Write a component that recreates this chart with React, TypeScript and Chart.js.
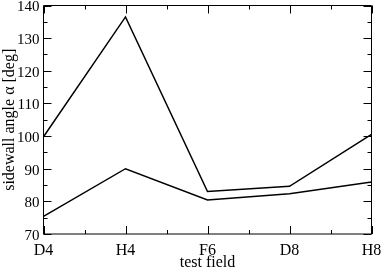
import React, { useEffect, useRef } from "react";
import { Chart, registerables } from "chart.js";

Chart.register(...registerables);

const categories = ["D4", "H4", "F6", "D8", "H8"];
const upperSeries = [99.8, 136.5, 83.0, 84.6, 100.5];
const lowerSeries = [75.4, 90.0, 80.4, 82.3, 85.9];
const yMin = 70;
const yMax = 140;
const yMajorStep = 10;
const yMinorStep = 5;

const FONT = "'Liberation Serif', 'DejaVu Serif', serif";

const framePlugin = {
  id: "frameTicks",
  afterDatasetsDraw(chart: any) {
    const { ctx, chartArea: a, scales } = chart;
    const x = scales.x;
    const y = scales.y;
    ctx.save();
    ctx.strokeStyle = "#000";
    ctx.lineWidth = 1;
    ctx.beginPath();
    ctx.rect(a.left, a.top, a.right - a.left, a.bottom - a.top);
    ctx.stroke();
    const major = 8;
    const minor = 4;
    ctx.beginPath();
    for (let v = yMin; v <= yMax + 1e-9; v += yMinorStep) {
      const py = Math.round(y.getPixelForValue(v)) + 0.5;
      const len = Math.abs((v - yMin) % yMajorStep) < 1e-9 ? major : minor;
      ctx.moveTo(a.left, py);
      ctx.lineTo(a.left + len, py);
      ctx.moveTo(a.right, py);
      ctx.lineTo(a.right - len, py);
    }
    for (let i = 0; i <= (categories.length - 1) * 2; i++) {
      const v = i / 2;
      const px = Math.round(x.getPixelForValue(v)) + 0.5;
      const len = i % 2 === 0 ? major : minor;
      ctx.moveTo(px, a.bottom);
      ctx.lineTo(px, a.bottom - len);
      ctx.moveTo(px, a.top);
      ctx.lineTo(px, a.top + len);
    }
    ctx.stroke();
    ctx.restore();
  },
};

export default function App() {
  const ref = useRef<HTMLCanvasElement | null>(null);
  useEffect(() => {
    document.body.style.margin = "0";
    const canvas = ref.current!;
    const chart = new Chart(canvas, {
      type: "line",
      data: {
        labels: categories,
        datasets: [
          {
            data: upperSeries,
            borderColor: "#000",
            borderWidth: 1.5,
            pointRadius: 0,
            tension: 0,
            fill: false,
          },
          {
            data: lowerSeries,
            borderColor: "#000",
            borderWidth: 1.5,
            pointRadius: 0,
            tension: 0,
            fill: false,
          },
        ],
      },
      options: {
        animation: false,
        responsive: false,
        maintainAspectRatio: false,
        layout: { padding: { top: 5.5, right: 10.5, left: 0, bottom: 0 } },
        plugins: {
          legend: { display: false },
          tooltip: { enabled: false },
        },
        scales: {
          x: {
            type: "category",
            offset: false,
            grid: { display: false, drawTicks: false, tickLength: 0 },
            border: { display: false },
            ticks: {
              color: "#000",
              font: { family: FONT, size: 16 },
              padding: 7,
              maxRotation: 0,
              autoSkip: false,
            },
            title: {
              display: true,
              text: "test field",
              color: "#000",
              font: { family: FONT, size: 16 },
              padding: { top: -1, bottom: 0 },
            },
            afterFit: (s: any) => {
              s.height = 38;
              s.paddingLeft = 0;
              s.paddingRight = 0;
            },
          },
          y: {
            min: yMin,
            max: yMax,
            grid: { display: false, drawTicks: false, tickLength: 0 },
            border: { display: false },
            ticks: {
              stepSize: yMajorStep,
              color: "#000",
              font: { family: FONT, size: 15 },
              padding: 4,
              labelOffset: 2,
            },
            title: {
              display: true,
              text: "sidewall angle α [deg]",
              color: "#000",
              font: { family: FONT, size: 16 },
              padding: 0,
            },
            afterFit: (s: any) => {
              s.width = 43.5;
              s.paddingTop = 0;
              s.paddingBottom = 0;
            },
          },
        },
      },
      plugins: [framePlugin],
    });
    return () => chart.destroy();
  }, []);
  return (
    <div style={{ position: "absolute", left: 0, top: 0, width: 382, height: 272 }}>
      <canvas ref={ref} width={382} height={272} style={{ width: 382, height: 272 }} />
    </div>
  );
}
